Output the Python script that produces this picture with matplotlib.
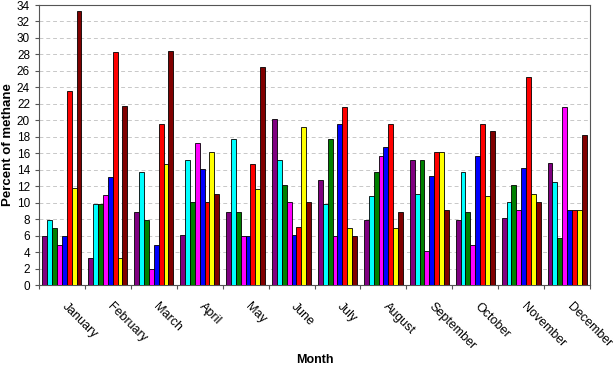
import numpy as np
import matplotlib
matplotlib.use("Agg")
import matplotlib.pyplot as plt
import matplotlib.transforms as mtransforms

plt.rcParams['font.family'] = ['Liberation Sans', 'DejaVu Sans']

months = ['January', 'February', 'March', 'April', 'May', 'June', 'July',
          'August', 'September', 'October', 'November', 'December']

# eight series per month, in drawing order
s_purple = [6.0, 3.3, 8.9, 6.1, 8.9, 20.2, 12.8, 7.9, 15.2, 7.9, 8.1, 14.8]
s_cyan = [7.9, 9.8, 13.7, 15.2, 17.7, 15.2, 9.8, 10.8, 11.1, 13.7, 10.1, 12.5]
s_green = [6.9, 9.8, 7.9, 10.1, 8.9, 12.1, 17.7, 13.7, 15.2, 8.9, 12.1, 5.7]
s_magenta = [4.9, 10.9, 2.0, 17.2, 5.9, 10.1, 5.9, 15.7, 4.1, 4.9, 9.1, 21.6]
s_blue = [5.9, 13.1, 4.9, 14.1, 5.9, 6.1, 19.6, 16.7, 13.2, 15.7, 14.2, 9.1]
s_red = [23.6, 28.3, 19.6, 10.1, 14.7, 7.1, 21.6, 19.6, 16.2, 19.6, 25.3, 9.1]
s_yellow = [11.8, 3.3, 14.7, 16.2, 11.7, 19.2, 6.9, 6.9, 16.2, 10.8, 11.1, 9.1]
s_darkred = [33.3, 21.7, 28.4, 11.1, 26.5, 10.1, 5.9, 8.9, 9.1, 18.7, 10.1, 18.2]

series = [s_purple, s_cyan, s_green, s_magenta, s_blue, s_red, s_yellow, s_darkred]
colors = ['#800080', '#00FFFF', '#008000', '#FF00FF', '#0000FF', '#FF0000', '#FFFF00', '#800000']

fig = plt.figure(figsize=(6.13, 3.66), dpi=100)
ax = fig.add_axes([39 / 613, 1 - 285 / 366, (590 - 39) / 613, (285 - 5) / 366])

x = np.arange(len(months))
n = len(series)
w = 0.106
for i, (vals, c) in enumerate(zip(series, colors)):
    ax.bar(x + 0.5 + (i - (n - 1) / 2) * w, vals, width=w, color=c,
           edgecolor='black', linewidth=0.6, zorder=3)

ax.set_xlim(0, len(months))
ax.set_ylim(0, 34)
ax.set_yticks(range(0, 35, 2))
ax.yaxis.grid(True, linestyle=(0, (4, 3)), color='#c8c8c8', linewidth=0.7, zorder=0)

# ticks at the category boundaries, month names placed under each group
ax.set_xticks(np.arange(len(months) + 1))
ax.set_xticklabels([])
ax.tick_params(axis='x', length=3, color='#555555')
ax.tick_params(axis='y', labelsize=8.5, length=3, color='#555555')
shift = mtransforms.ScaledTranslation(6 / 100, -16 / 100, fig.dpi_scale_trans)
for xi, m in zip(x + 0.5, months):
    ax.text(xi, 0, m, transform=ax.get_xaxis_transform() + shift, rotation=-45,
            ha='left', va='top', rotation_mode='anchor', fontsize=9)

for sp in ax.spines.values():
    sp.set_color('#555555')

ax.set_ylabel('Percent of methane', fontsize=9.5, fontweight='bold', labelpad=2)
ax.set_xlabel('Month', fontsize=9, fontweight='bold')
ax.xaxis.set_label_coords(0.5, -0.245)

fig.savefig('out.png', dpi=100)
